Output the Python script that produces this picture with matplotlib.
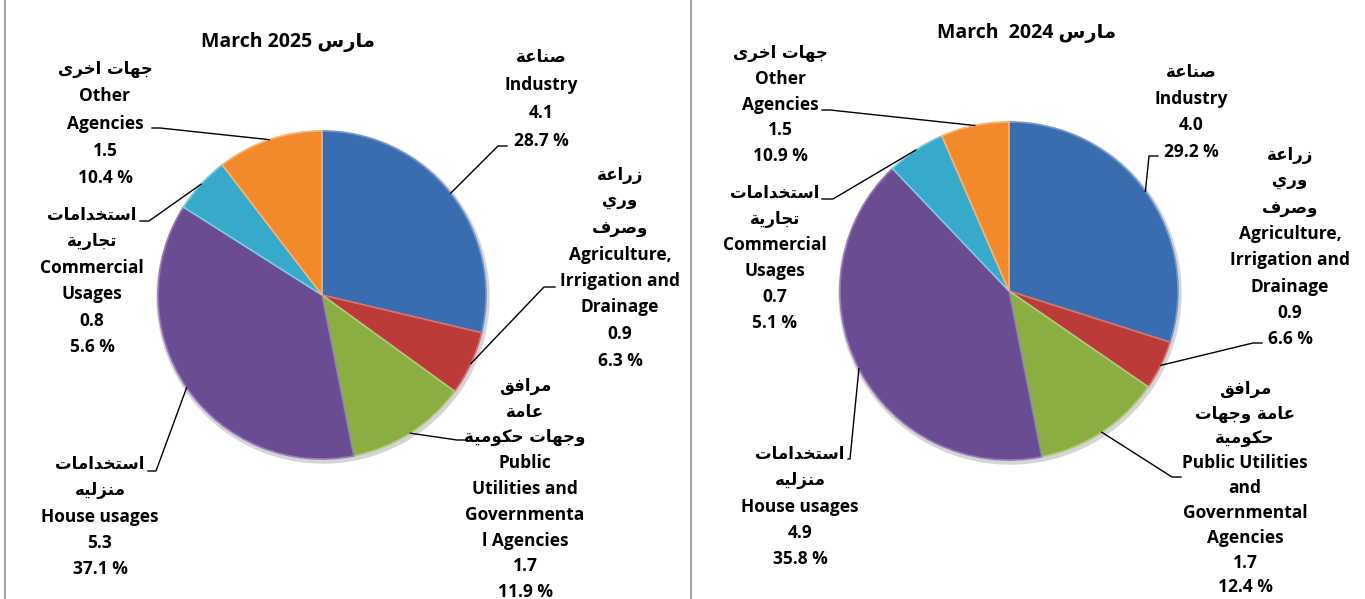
import numpy as np
import matplotlib
matplotlib.use('Agg')
import matplotlib.pyplot as plt

# DATA: electricity use by sector, March 2025 vs March 2024
values_2025 = [4.1, 0.9, 1.7, 5.3, 0.8, 1.5]
pct_2025 = [28.7, 6.3, 11.9, 37.1, 5.6, 10.4]
values_2024 = [4.0, 0.9, 1.7, 4.9, 0.7, 1.5]
pct_2024 = [29.2, 6.6, 12.4, 35.8, 5.1, 10.9]
# slice sizes as they are drawn in the 2024 pie (they do not follow the printed shares)
drawn_2024 = [29.9, 4.7, 12.3, 41.0, 5.6, 6.5]

names_2025 = [
    ['صناعة', 'Industry'],
    ['زراعة', 'وري', 'وصرف', 'Agriculture,', 'Irrigation and', 'Drainage'],
    ['مرافق', 'عامة', 'وجهات حكومية', 'Public', 'Utilities and', 'Governmenta', 'l Agencies'],
    ['استخدامات', 'منزليه', 'House usages'],
    ['استخدامات', 'تجارية', 'Commercial', 'Usages'],
    ['جهات اخرى', 'Other', 'Agencies'],
]
names_2024 = [
    ['صناعة', 'Industry'],
    ['زراعة', 'وري', 'وصرف', 'Agriculture,', 'Irrigation and', 'Drainage'],
    ['مرافق', 'عامة وجهات', 'حكومية', 'Public Utilities', 'and', 'Governmental', 'Agencies'],
    ['استخدامات', 'منزليه', 'House usages'],
    ['استخدامات', 'تجارية', 'Commercial', 'Usages'],
    ['جهات اخرى', 'Other', 'Agencies'],
]
month_ar = 'مارس'
title_2025 = 'March 2025'
title_2024 = 'March  2024'

colors = ['#3A6CB0', '#BB3B38', '#8AAE42', '#6A4C93', '#37A9CA', '#F28A2B']
edges = ['#6C95CC', '#D9716E', '#B0CC78', '#9379B5', '#7CCBE0', '#F8B272']

FONT = ['Open Sans', 'DejaVu Sans']

# ARABIC SHAPING (matplotlib has no text shaping, so use presentation forms + reverse)
DUAL = {'ب': 0xFE8F, 'ت': 0xFE95, 'ث': 0xFE99, 'ج': 0xFE9D, 'ح': 0xFEA1, 'خ': 0xFEA5,
        'س': 0xFEB1, 'ش': 0xFEB5, 'ص': 0xFEB9, 'ض': 0xFEBD, 'ط': 0xFEC1, 'ظ': 0xFEC5,
        'ع': 0xFEC9, 'غ': 0xFECD, 'ف': 0xFED1, 'ق': 0xFED5, 'ك': 0xFED9, 'ل': 0xFEDD,
        'م': 0xFEE1, 'ن': 0xFEE5, 'ه': 0xFEE9, 'ي': 0xFEF1}
RIGHT = {'ا': 0xFE8D, 'د': 0xFEA9, 'ذ': 0xFEAB, 'ر': 0xFEAD, 'ز': 0xFEAF, 'و': 0xFEED,
         'ة': 0xFE93, 'ى': 0xFEEF}


def shape(text):
    out = []
    for i, ch in enumerate(text):
        if ch not in DUAL and ch not in RIGHT:
            out.append(ch)
            continue
        prev = text[i - 1] if i > 0 else ''
        nxt = text[i + 1] if i + 1 < len(text) else ''
        join_prev = prev in DUAL
        join_next = ch in DUAL and (nxt in DUAL or nxt in RIGHT)
        base = DUAL.get(ch, RIGHT.get(ch))
        if join_prev and join_next:
            code = base + 3
        elif join_prev:
            code = base + 1
        elif join_next:
            code = base + 2
        else:
            code = base
        out.append(chr(code))
    return ''.join(out)[::-1]


def is_arabic(s):
    return any('\u0600' <= c <= '\u06FF' for c in s)


# LAYOUT (pixel coordinates, y down)
W, H = 1365, 599
fig = plt.figure(figsize=(W / 100, H / 100), dpi=100)
ax = fig.add_axes([0, 0, 1, 1])

panels = [
    dict(values=values_2025, pct=pct_2025, sizes=pct_2025, names=names_2025,
         title=title_2025, title_xy=(288, 42), center=(322, 295), r=164,
         labels=[(541, 57, 28), (620, 175, 26.5), (525, 386, 25.75),
                 (100, 464, 26.25), (92, 215, 26.4), (105, 69, 27.3)],
         leaders=[((498, 146), (507, 146)), ((544, 287), (555, 287)),
                  ((457, 440), (467, 440)), ((156, 471), (148, 471)),
                  ((149, 221), (140, 221)), ((160, 128), (152, 128))]),
    dict(values=values_2024, pct=pct_2024, sizes=drawn_2024, names=names_2024,
         title=title_2024, title_xy=(1027, 33), center=(1009, 291), r=169,
         labels=[(1191, 72, 26.7), (1290, 155, 26.3), (1245, 389, 24.8),
                 (800, 454, 26.25), (775, 193, 26), (780, 53, 25.8)],
         leaders=[((1149, 156), (1158, 156)), ((1253, 343), (1262, 343)),
                  ((1172, 477), (1181, 477)), ((850, 459), (848, 459)),
                  ((833, 199), (822, 199)), ((830, 110), (822, 110))]),
]

for p in panels:
    cx, cy = p['center']
    # soft shadow behind the pie
    ax.add_patch(plt.Circle((cx + 1, cy + 2), p['r'] + 2, color='#D5D5D5', zorder=1))
    # y axis is inverted, so counterclock=True runs clockwise on screen
    wedges, _ = ax.pie(p['sizes'], colors=colors, startangle=-90, counterclock=True,
                       center=p['center'], radius=p['r'], frame=True,
                       wedgeprops=dict(linewidth=1.2, zorder=2))
    for w, ec in zip(wedges, edges):
        w.set_edgecolor(ec)

    tx, ty = p['title_xy']
    ax.text(tx, ty, p['title'] + ' ' + shape(month_ar), ha='center', va='center',
            fontsize=14, fontweight='bold', family=FONT, zorder=5)

    for i, w in enumerate(wedges):
        lines = p['names'][i] + ['%.1f' % p['values'][i], '%.1f %%' % p['pct'][i]]
        lx, ly, step = p['labels'][i]
        for k, line in enumerate(lines):
            if is_arabic(line):
                ax.text(lx, ly + k * step, shape(line), ha='center', va='center',
                        fontsize=12, fontweight='bold', family='DejaVu Sans', zorder=5)
            else:
                ax.text(lx, ly + k * step, line, ha='center', va='center', fontsize=12.5,
                        fontweight='bold', family=FONT, zorder=5)
        mid = np.deg2rad((w.theta1 + w.theta2) / 2)
        sx = cx + p['r'] * np.cos(mid)
        sy = cy + p['r'] * np.sin(mid)
        (ex, ey), (fx, fy) = p['leaders'][i]
        ax.plot([sx, ex, fx], [sy, ey, fy], color='black', lw=1, zorder=4)

# PANEL FRAMES
ax.plot([5, 5], [0, H], color='#A6A6A6', lw=1.5)
ax.plot([691, 691], [0, H], color='#A6A6A6', lw=1.5)

ax.set_xlim(0, W)
ax.set_ylim(H, 0)
ax.set_aspect('auto')
ax.axis('off')

fig.savefig('out.png', dpi=100, facecolor='white')
